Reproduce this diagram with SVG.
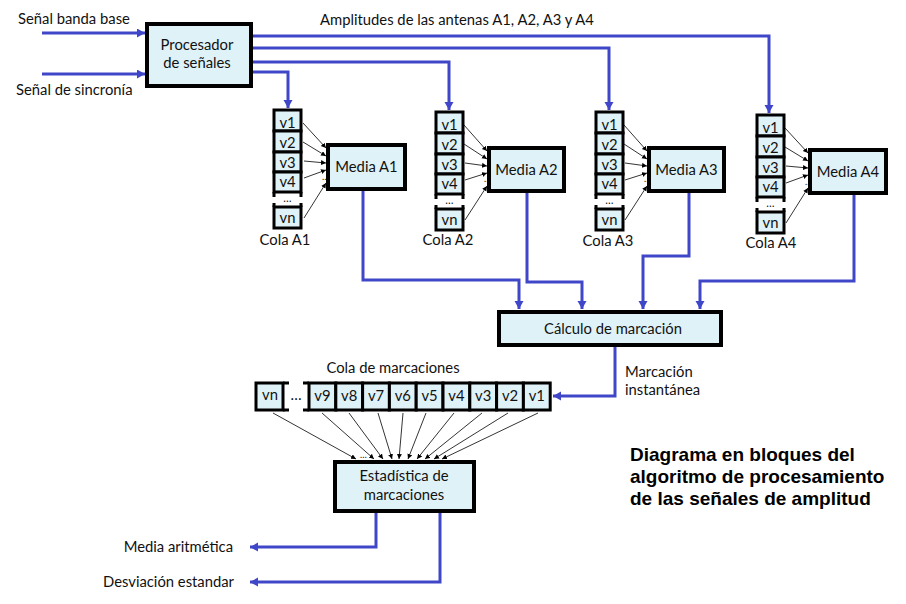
<svg xmlns="http://www.w3.org/2000/svg" width="906" height="604" viewBox="0 0 906 604">
<defs>
<marker id="ab" markerUnits="userSpaceOnUse" markerWidth="10" markerHeight="10" refX="8" refY="4.5" orient="auto"><path d="M0,0 L8,4.5 L0,9 z" fill="#4046c8"/></marker>
<marker id="ak" markerUnits="userSpaceOnUse" markerWidth="6" markerHeight="6" refX="5" refY="2.5" orient="auto"><path d="M0,0 L5,2.5 L0,5 z" fill="#000"/></marker>
<style>
text{font-family:Lato,"Open Sans","Liberation Sans",sans-serif;font-size:14.8px;fill:#111}
.c{text-anchor:middle}
.e{text-anchor:end}
.b{font-family:"Liberation Sans",Arial,sans-serif;font-weight:bold;font-size:19px;fill:#000}
.box{fill:#dff2f8;stroke:#000;stroke-width:4}
.cell{fill:#dff2f8;stroke:#000;stroke-width:3}
.bar{stroke:#000;stroke-width:3;fill:none}
.bl{fill:none;stroke:#4046c8;stroke-width:3;marker-end:url(#ab)}
.th{fill:none;stroke:#000;stroke-width:0.8;marker-end:url(#ak)}
.dt{font-size:9px}
.qd{font-size:11px}
</style>
</defs>
<rect width="906" height="604" fill="#fff"/>

<g id="connectors">
<path class="bl" d="M42,33 H145"/>
<path class="bl" d="M42,74 H145"/>
<path class="bl" d="M253,36 H769 V113"/>
<path class="bl" d="M253,48 H609 V110"/>
<path class="bl" d="M253,62 H449 V110"/>
<path class="bl" d="M253,72 H288 V108"/>
<path class="bl" d="M363,191 V280 H519 V309"/>
<path class="bl" d="M527,193 V282 H582 V309"/>
<path class="bl" d="M689,193 V256 H643 V309"/>
<path class="bl" d="M854,195 V281 H700 V309"/>
<path class="bl" d="M615,347 V396 H553"/>
<path class="bl" d="M376,513 V547 H250"/>
<path class="bl" d="M440,513 V582 H250"/>
<g id="thinA1">
<path class="th" d="M303,123 L326,148"/><path class="th" d="M303,142 L326,156"/><path class="th" d="M304,161 L326,163"/><path class="th" d="M304,178 L326,170"/><path class="th" d="M304,218 L326,183"/>
</g>
<g id="thinA2">
<path class="th" d="M464,125 L487,151"/><path class="th" d="M464,144 L487,159"/><path class="th" d="M465,163 L487,166"/><path class="th" d="M465,180 L487,173"/><path class="th" d="M465,220 L487,186"/>
</g>
<g id="thinA3">
<path class="th" d="M624,125 L647,151"/><path class="th" d="M624,144 L647,159"/><path class="th" d="M625,163 L647,166"/><path class="th" d="M625,180 L647,173"/><path class="th" d="M625,220 L647,186"/>
</g>
<g id="thinA4">
<path class="th" d="M785,128 L808,153"/><path class="th" d="M785,147 L808,161"/><path class="th" d="M786,166 L808,168"/><path class="th" d="M786,183 L808,175"/><path class="th" d="M786,223 L808,188"/>
</g>
<g id="thinQ">
<path class="th" d="M273,413 L356,459"/><path class="th" d="M322,413 L374,459"/><path class="th" d="M349,413 L383,459"/><path class="th" d="M378,413 L392,459"/><path class="th" d="M403,413 L399,459"/><path class="th" d="M426,413 L408,459"/><path class="th" d="M454,413 L417,459"/><path class="th" d="M482,413 L425,459"/><path class="th" d="M508,413 L434,459"/><path class="th" d="M538,413 L442,459"/>
</g>
</g>

<g id="inputs-labels">
<text x="18" y="24">Señal banda base</text>
<text x="16" y="95">Señal de sincronía</text>
<text x="320" y="25">Amplitudes de las antenas A1, A2, A3 y A4</text>
</g>

<g id="procesador">
<rect class="box" x="147" y="24" width="104" height="62"/>
<text class="c" x="197" y="50">Procesador</text>
<text class="c" x="197" y="68">de señales</text>
</g>

<g id="colaA1" transform="translate(274,110)">
<rect class="cell" x="0" y="0" width="27" height="21"/><rect class="cell" x="0" y="21" width="27" height="21"/><rect class="cell" x="0" y="42" width="27" height="20"/><rect class="cell" x="0" y="62" width="27" height="20"/>
<path class="bar" d="M0,82 V87 M27,82 V87 M0,93 V97 M27,93 V97"/>
<rect class="cell" x="0" y="97" width="27" height="21"/>
<text class="c" x="13.5" y="18">v1</text><text class="c" x="13.5" y="38">v2</text><text class="c" x="13.5" y="58">v3</text><text class="c" x="13.5" y="77">v4</text>
<text class="c qd" x="13.5" y="92">…</text><text class="c" x="13.5" y="113">vn</text>
<text class="c" x="11" y="135">Cola A1</text>
<text class="dt" x="48" y="70">…</text>
</g>
<g id="colaA2" transform="translate(436,112)">
<rect class="cell" x="0" y="0" width="27" height="21"/><rect class="cell" x="0" y="21" width="27" height="21"/><rect class="cell" x="0" y="42" width="27" height="20"/><rect class="cell" x="0" y="62" width="27" height="20"/>
<path class="bar" d="M0,82 V87 M27,82 V87 M0,93 V97 M27,93 V97"/>
<rect class="cell" x="0" y="97" width="27" height="21"/>
<text class="c" x="13.5" y="18">v1</text><text class="c" x="13.5" y="38">v2</text><text class="c" x="13.5" y="58">v3</text><text class="c" x="13.5" y="77">v4</text>
<text class="c qd" x="13.5" y="92">…</text><text class="c" x="13.5" y="113">vn</text>
<text class="c" x="12" y="133">Cola A2</text>
<text class="dt" x="48" y="70">…</text>
</g>
<g id="colaA3" transform="translate(596,112)">
<rect class="cell" x="0" y="0" width="27" height="21"/><rect class="cell" x="0" y="21" width="27" height="21"/><rect class="cell" x="0" y="42" width="27" height="20"/><rect class="cell" x="0" y="62" width="27" height="20"/>
<path class="bar" d="M0,82 V87 M27,82 V87 M0,93 V97 M27,93 V97"/>
<rect class="cell" x="0" y="97" width="27" height="21"/>
<text class="c" x="13.5" y="18">v1</text><text class="c" x="13.5" y="38">v2</text><text class="c" x="13.5" y="58">v3</text><text class="c" x="13.5" y="77">v4</text>
<text class="c qd" x="13.5" y="92">…</text><text class="c" x="13.5" y="113">vn</text>
<text class="c" x="12" y="134">Cola A3</text>
<text class="dt" x="48" y="70">…</text>
</g>
<g id="colaA4" transform="translate(757,115)">
<rect class="cell" x="0" y="0" width="27" height="21"/><rect class="cell" x="0" y="21" width="27" height="21"/><rect class="cell" x="0" y="42" width="27" height="20"/><rect class="cell" x="0" y="62" width="27" height="20"/>
<path class="bar" d="M0,82 V87 M27,82 V87 M0,93 V97 M27,93 V97"/>
<rect class="cell" x="0" y="97" width="27" height="21"/>
<text class="c" x="13.5" y="18">v1</text><text class="c" x="13.5" y="38">v2</text><text class="c" x="13.5" y="58">v3</text><text class="c" x="13.5" y="77">v4</text>
<text class="c qd" x="13.5" y="92">…</text><text class="c" x="13.5" y="113">vn</text>
<text class="c" x="14" y="133">Cola A4</text>
<text class="dt" x="48" y="70">…</text>
</g>

<g id="mediaA1"><rect class="box" x="328" y="145" width="77" height="44"/><text class="c" x="366.5" y="172">Media A1</text></g>
<g id="mediaA2"><rect class="box" x="489" y="148" width="75" height="43"/><text class="c" x="526.5" y="175">Media A2</text></g>
<g id="mediaA3"><rect class="box" x="649" y="148" width="75" height="43"/><text class="c" x="686.5" y="175">Media A3</text></g>
<g id="mediaA4"><rect class="box" x="810" y="150" width="76" height="43"/><text class="c" x="848" y="177">Media A4</text></g>

<g id="calculo">
<rect class="box" x="499" y="312" width="222" height="33"/>
<text class="c" x="613" y="334">Cálculo de marcación</text>
</g>
<g id="marcacion-label">
<text x="625" y="377">Marcación</text>
<text x="625" y="395">instantánea</text>
</g>

<g id="colaMarcaciones">
<text class="c" x="393" y="373">Cola de marcaciones</text>
<rect class="cell" x="256" y="383" width="27" height="27"/>
<path class="bar" d="M283,383 H289 M283,410 H289 M309,383 H303 M309,410 H303"/>
<text class="c" x="296" y="400">…</text>
<rect class="cell" x="309" y="383" width="26.8" height="27"/>
<rect class="cell" x="335.8" y="383" width="26.8" height="27"/>
<rect class="cell" x="362.6" y="383" width="26.8" height="27"/>
<rect class="cell" x="389.4" y="383" width="26.8" height="27"/>
<rect class="cell" x="416.2" y="383" width="26.8" height="27"/>
<rect class="cell" x="443" y="383" width="26.8" height="27"/>
<rect class="cell" x="469.8" y="383" width="26.8" height="27"/>
<rect class="cell" x="496.6" y="383" width="26.8" height="27"/>
<rect class="cell" x="523.4" y="383" width="26.8" height="27"/>
<text class="c" x="270" y="400">vn</text>
<text class="c" x="322.4" y="401">v9</text><text class="c" x="349.2" y="401">v8</text><text class="c" x="376" y="401">v7</text><text class="c" x="402.8" y="401">v6</text><text class="c" x="429.6" y="401">v5</text><text class="c" x="456.4" y="401">v4</text><text class="c" x="483.2" y="401">v3</text><text class="c" x="510" y="401">v2</text><text class="c" x="536.8" y="401">v1</text>
<text class="dt" x="360" y="458">…</text>
</g>

<g id="estadistica">
<rect class="box" x="335" y="462" width="139" height="49"/>
<text class="c" x="404" y="481">Estadística de</text>
<text class="c" x="404" y="500">marcaciones</text>
</g>
<g id="outputs-labels">
<text class="e" x="233" y="552">Media aritmética</text>
<text class="e" x="234" y="587">Desviación estandar</text>
</g>

<g id="title">
<text class="b" x="630" y="461">Diagrama en bloques del</text>
<text class="b" x="630" y="483">algoritmo de procesamiento</text>
<text class="b" x="630" y="505">de las señales de amplitud</text>
</g>
</svg>
